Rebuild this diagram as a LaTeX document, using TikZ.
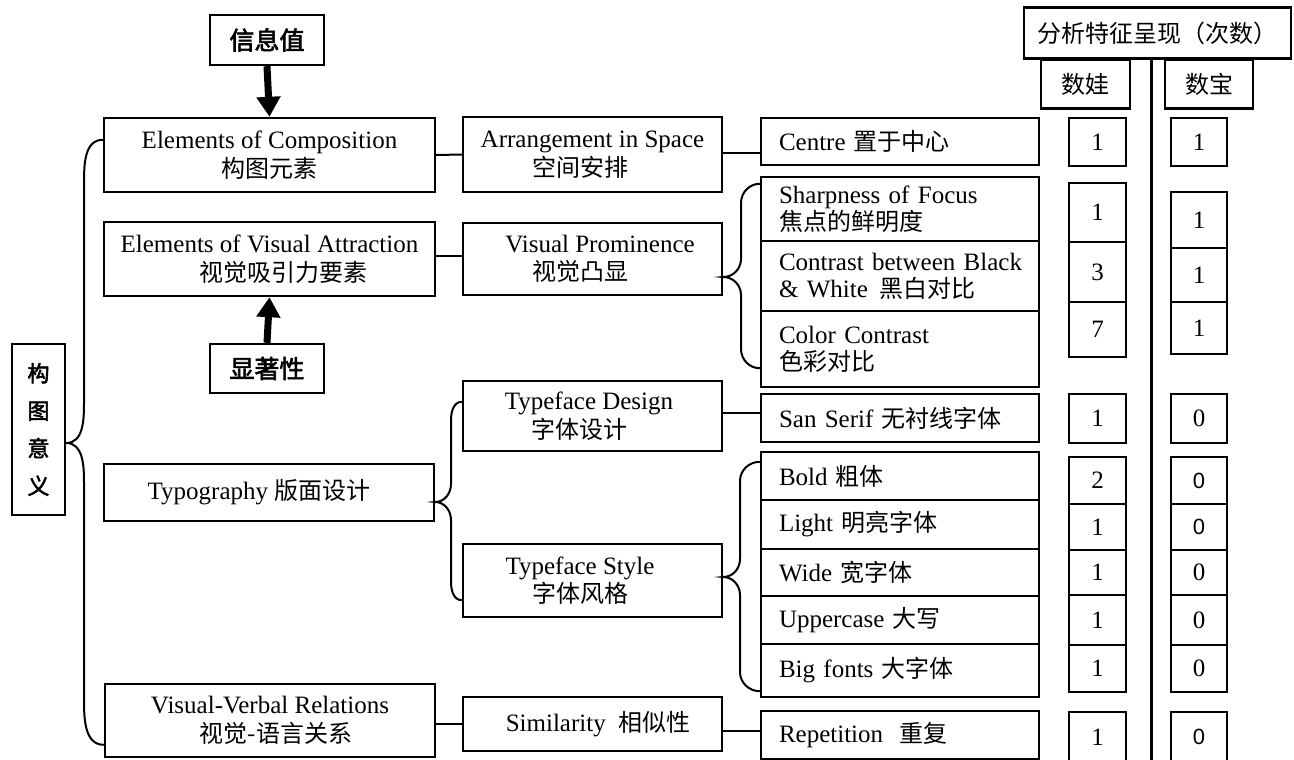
\documentclass[tikz,border=0pt]{standalone}
\usepackage{fontspec}
\setmainfont{Liberation Serif}
\newfontfamily\cjk{Noto Sans CJK SC}[Scale=0.96]
\newfontfamily\cjkbold{Noto Sans CJK SC}[FakeBold=2.5]
\newfontfamily\sansnum{Liberation Sans}
\usetikzlibrary{arrows.meta,calc}
\newcommand\zhtxt[1]{{\cjk #1}}
\tikzset{
  box/.style={draw, line width=2.4pt, inner sep=0pt, align=center, font=\fontsize{25}{28.5}\selectfont},
  lbox/.style={draw, line width=2.4pt, inner ysep=0pt, inner xsep=18pt, text width=242pt, align=left, font=\fontsize{25}{27}\selectfont},
  vbox/.style={draw, line width=2.4pt, inner sep=0pt, font=\fontsize{25}{27}\selectfont},
  tag/.style={draw, line width=2.4pt, inner sep=0pt, align=center, font=\cjkbold\fontsize{25}{27}\selectfont},
  link/.style={line width=2pt},
  brace/.style={line width=2pt},
  bigarrow/.style={line width=7pt, -{Triangle[length=20pt,width=23pt]}},
}
\begin{document}
\begin{tikzpicture}[x=1pt,y=-1pt]
\useasboundingbox (0,0) rectangle (1294,760);

% ---------- left column ----------
\node[tag, minimum width=114pt, minimum height=50pt] (info) at (267,40) {信息值};
\node[box, minimum width=331pt, minimum height=74pt] (ec) at (269.5,155) {Elements of Composition\\\zhtxt{构图元素}};
\node[box, minimum width=331pt, minimum height=74pt] (ea) at (269.5,259) {Elements of Visual Attraction\\\hspace*{28pt}\zhtxt{视觉吸引力要素}};
\node[tag, minimum width=114pt, minimum height=49pt] (sal) at (267,368.5) {显著性};
\node[box, minimum width=330pt, minimum height=57pt] (ty) at (269,492.5) {\hspace*{-20pt}Typography \zhtxt{版面设计}};
\node[box, minimum width=330pt, minimum height=73pt] (vv) at (270,720.5) {Visual-Verbal Relations\\\hspace*{12pt}\zhtxt{视觉-语言关系}};
\node[tag, minimum width=53pt, minimum height=171pt, font=\cjkbold\fontsize{22}{37.5}\selectfont] (gt) at (38.5,429.5) {构\\图\\意\\义};

% ---------- middle column ----------
\node[box, minimum width=259pt, minimum height=75pt] (ar) at (592.5,154.5) {Arrangement in Space\\\hspace*{-25pt}\zhtxt{空间安排}};
\node[box, minimum width=259pt, minimum height=72pt] (vp) at (592.5,259) {\hspace*{15pt}Visual Prominence\\\hspace*{-25pt}\zhtxt{视觉凸显}};
\node[box, minimum width=259pt, minimum height=70pt] (td) at (592.5,416) {\hspace*{-7pt}Typeface Design\\\hspace*{-27pt}\zhtxt{字体设计}};
\node[box, minimum width=259pt, minimum height=73pt] (ts) at (592.5,580.5) {\hspace*{-25pt}Typeface Style\\\hspace*{-25pt}\zhtxt{字体风格}};
\node[box, minimum width=259pt, minimum height=54pt] (si) at (592.5,724) {\hspace*{11pt}Similarity\ \ \zhtxt{相似性}};

% ---------- right column ----------
\node[lbox, minimum width=278pt, minimum height=47pt] (ce) at (900,141.5) {Centre \zhtxt{置于中心}};
\node[lbox, minimum width=278pt, minimum height=64pt] (sh) at (900,209) {Sharpness of Focus\\\zhtxt{焦点的鲜明度}};
\node[lbox, minimum width=278pt, minimum height=70pt] (cb) at (900,276) {\mbox{Contrast between Black}\\\mbox{\& White\hspace{12pt}\zhtxt{黑白对比}}};
\node[lbox, minimum width=278pt, minimum height=76pt] (cc) at (900,349) {Color Contrast\\\zhtxt{色彩对比}};
\node[lbox, minimum width=278pt, minimum height=48pt] (ss) at (900,418) {San Serif \zhtxt{无衬线字体}};
\node[lbox, minimum width=278pt, minimum height=48pt] (bo) at (900,476) {Bold \zhtxt{粗体}};
\node[lbox, minimum width=278pt, minimum height=49pt] (li) at (900,524.5) {Light \zhtxt{明亮字体}};
\node[lbox, minimum width=278pt, minimum height=47pt] (wi) at (900,572.5) {Wide \zhtxt{宽字体}};
\node[lbox, minimum width=278pt, minimum height=48pt] (up) at (900,620) {Uppercase \zhtxt{大写}};
\node[lbox, minimum width=278pt, minimum height=53pt] (bf) at (900,670.5) {Big fonts \zhtxt{大字体}};
\node[lbox, minimum width=278pt, minimum height=48pt] (re) at (900,735) {Repetition\ \ \zhtxt{重复}};

% ---------- headers ----------
\node[vbox, minimum width=267pt, minimum height=51pt] (hd) at (1157.5,33) {\zhtxt{分析特征呈现（次数）}};
\node[vbox, minimum width=89pt, minimum height=49pt] (hA) at (1085.5,84) {\zhtxt{数娃}};
\node[vbox, minimum width=88pt, minimum height=49pt] (hB) at (1209,84) {\zhtxt{数宝}};
\coordinate (vbot) at (1151.5,765);
\draw[line width=2.4pt] (hd.south -| vbot) -- (vbot);

% ---------- value column A ----------
\node[vbox, minimum width=57pt, minimum height=48pt] (a1) at (1097.5,142) {1};
\node[vbox, minimum width=57pt, minimum height=59pt] (a2) at (1097.5,212.5) {1};
\node[vbox, minimum width=57pt, minimum height=60pt] (a3) at (1097.5,272) {3};
\node[vbox, minimum width=57pt, minimum height=55pt] (a4) at (1097.5,329.5) {7};
\node[vbox, minimum width=57pt, minimum height=49pt] (a5) at (1097.5,418.5) {1};
\node[vbox, minimum width=57pt, minimum height=47pt] (a6) at (1097.5,480.5) {\raisebox{-6pt}{2}};
\node[vbox, minimum width=57pt, minimum height=46pt] (a7) at (1097.5,527) {\raisebox{-6pt}{1}};
\node[vbox, minimum width=57pt, minimum height=45pt] (a8) at (1097.5,572.5) {\raisebox{-4pt}{1}};
\node[vbox, minimum width=57pt, minimum height=50pt] (a9) at (1097.5,620) {\raisebox{-3pt}{1}};
\node[vbox, minimum width=57pt, minimum height=47pt] (a10) at (1097.5,668.5) {1};
\node[vbox, minimum width=57pt, minimum height=50pt] (a11) at (1097.5,737) {\raisebox{-3pt}{1}};

% ---------- value column B ----------
\node[vbox, minimum width=56pt, minimum height=48pt] (b1) at (1199,142) {1};
\node[vbox, minimum width=56pt, minimum height=56pt] (b2) at (1199,220) {1};
\node[vbox, minimum width=56pt, minimum height=54pt] (b3) at (1199,275) {1};
\node[vbox, minimum width=56pt, minimum height=52pt] (b4) at (1199,328) {1};
\node[vbox, minimum width=56pt, minimum height=49pt] (b5) at (1199,418.5) {0};
\node[vbox, minimum width=56pt, minimum height=47pt] (b6) at (1199,480.5) {\raisebox{-6pt}{\sansnum\fontsize{22}{24}\selectfont 0}};
\node[vbox, minimum width=56pt, minimum height=46pt] (b7) at (1199,527) {\raisebox{-5pt}{\sansnum\fontsize{22}{24}\selectfont 0}};
\node[vbox, minimum width=56pt, minimum height=45pt] (b8) at (1199,572.5) {\raisebox{-3pt}{0}};
\node[vbox, minimum width=56pt, minimum height=50pt] (b9) at (1199,620) {\raisebox{-2pt}{0}};
\node[vbox, minimum width=56pt, minimum height=47pt] (b10) at (1199,668.5) {0};
\node[vbox, minimum width=56pt, minimum height=50pt] (b11) at (1199,737) {\raisebox{-4pt}{\sansnum\fontsize{22}{24}\selectfont 0}};

% ---------- arrows ----------
\draw[bigarrow] (info.south) -- (ec.north);
\draw[bigarrow] (sal.north) -- (ea.south);

% ---------- connectors ----------
\draw[link] (ec.east) -- (ar.west);
\draw[link] ([yshift=1.5pt]ar.east) -- ([yshift=1.5pt]ar.east -| ce.west);
\draw[link] ([yshift=3pt]ea.east) -- ([yshift=3pt]ea.east -| vp.west);
\draw[link] ([yshift=3pt]td.east) -- ([yshift=3pt]td.east -| ss.west);
\draw[link] (si.west -| vv.east) -- (si.west);
\draw[link] ([yshift=-7pt]si.east) -- ([yshift=-7pt]si.east -| re.west);

% ---------- braces ----------
% big left brace
\draw[brace] ([yshift=-23pt]ec.north west) to[out=180,in=90] (84,183) -- (84,403)
  to[out=-90,in=0] ([yshift=-13.5pt]gt.east) to[out=0,in=90] (84,482) -- (84,700)
  to[out=-90,in=180] ([yshift=-62pt]vv.north west);
% typography brace
\draw[brace] ([yshift=-22pt]td.north west) to[out=180,in=90] (451,420) -- (451,484)
  to[out=-90,in=0] ([yshift=-9.5pt]ty.east) to[out=0,in=90] (451,520) -- (451,582)
  to[out=-90,in=180] ([yshift=18pt]ts.south west);
% visual prominence brace
\draw[brace] ([yshift=-8pt]sh.north west) to[out=180,in=90] (741,203) -- (741,259)
  to[out=-90,in=0] ([yshift=-18pt]vp.east) to[out=0,in=90] (741,295) -- (741,349)
  to[out=-90,in=180] ([yshift=20pt]cc.south west);
% typeface style brace
\draw[brace] ([yshift=-11pt]bo.north west) to[out=180,in=90] (740,481) -- (740,559)
  to[out=-90,in=0] ([yshift=3.5pt]ts.east) to[out=0,in=90] (740,595) -- (740,672)
  to[out=-90,in=180] ([yshift=7pt]bf.south west);
\end{tikzpicture}
\end{document}
